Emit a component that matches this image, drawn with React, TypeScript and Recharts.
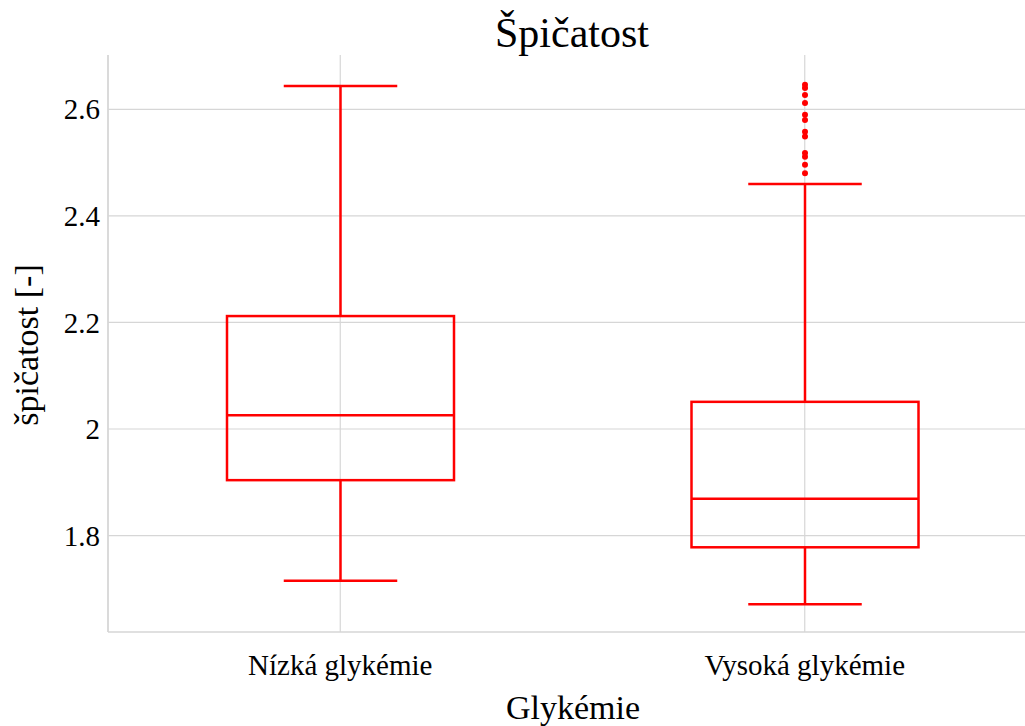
import { Bar, CartesianGrid, ComposedChart, XAxis, YAxis } from "recharts";

// Krabicový graf špičatosti podle glykémie.
const kategorie = ["Nízká glykémie", "Vysoká glykémie"];
const fousDolni = [1.715, 1.671];
const kvartil1 = [1.904, 1.778];
const median = [2.026, 1.869];
const kvartil3 = [2.212, 2.051];
const fousHorni = [2.644, 2.46];
const odlehle: number[][] = [
  [],
  [2.646, 2.64, 2.627, 2.612, 2.59, 2.58, 2.558, 2.549, 2.518, 2.511, 2.496, 2.48],
];
const yTicks = [1.8, 2, 2.2, 2.4, 2.6];

const CERVENA = "#ff0000";
const SEDA = "#d6d6d6";
const FONT = "'Liberation Serif', 'Times New Roman', serif";
const pismo = (size: number) => ({ fontFamily: FONT, fontSize: size });

const data = kategorie.map((name, i) => ({
  name,
  rozsah: [fousDolni[i], fousHorni[i]],
  q1: kvartil1[i],
  med: median[i],
  q3: kvartil3[i],
  lo: fousDolni[i],
  hi: fousHorni[i],
  out: odlehle[i],
}));

type BoxProps = {
  x?: number;
  y?: number;
  width?: number;
  height?: number;
  payload?: (typeof data)[number];
};

function Krabice({ x = 0, y = 0, width = 0, height = 0, payload }: BoxProps) {
  if (!payload) return null;
  const top = Math.min(y, y + height);
  const h = Math.abs(height);
  const { lo, hi } = payload;
  // převod hodnoty na pixel přes škálu, kterou dal sloupec [lo, hi]
  const py = (v: number) => top + ((hi - v) / (hi - lo)) * h;
  const cx = x + width / 2;
  const cap = width / 4;
  const s = { stroke: CERVENA, strokeWidth: 2.5, fill: "none" };
  return (
    <g>
      <line x1={cx} x2={cx} y1={py(hi)} y2={py(payload.q3)} {...s} />
      <line x1={cx} x2={cx} y1={py(payload.q1)} y2={py(lo)} {...s} />
      <line x1={cx - cap} x2={cx + cap} y1={py(hi)} y2={py(hi)} {...s} />
      <line x1={cx - cap} x2={cx + cap} y1={py(lo)} y2={py(lo)} {...s} />
      <rect
        x={x}
        y={py(payload.q3)}
        width={width}
        height={py(payload.q1) - py(payload.q3)}
        {...s}
      />
      <line x1={x} x2={x + width} y1={py(payload.med)} y2={py(payload.med)} {...s} />
      {payload.out.map((v, k) => (
        <circle key={k} cx={cx} cy={py(v)} r={3} fill={CERVENA} />
      ))}
    </g>
  );
}

function YTick({ x, y, payload }: any) {
  return (
    <text x={x} y={y} dy="0.35em" textAnchor="end" fill="#000" style={pismo(29)}>
      {String(payload.value)}
    </text>
  );
}

function XTick({ x, y, payload }: any) {
  return (
    <text x={x} y={y} dy={35} textAnchor="middle" fill="#000" style={pismo(29)}>
      {payload.value}
    </text>
  );
}

export default function App() {
  return (
    <div
      style={{
        position: "fixed",
        left: 0,
        top: 0,
        width: 1025,
        height: 726,
        overflow: "hidden",
        background: "#fff",
      }}
    >
      <ComposedChart
        width={1040}
        height={726}
        data={data}
        margin={{ top: 55, right: 3, bottom: 0, left: 0 }}
      >
        <CartesianGrid stroke={SEDA} strokeWidth={1.2} horizontalValues={yTicks} />
        <XAxis
          dataKey="name"
          height={94}
          tickLine={false}
          axisLine={{ stroke: SEDA, strokeWidth: 1.5 }}
          tick={<XTick />}
          interval={0}
        />
        <YAxis
          width={108}
          domain={[1.619, 2.702]}
          ticks={yTicks}
          tickLine={false}
          axisLine={{ stroke: SEDA, strokeWidth: 1.5 }}
          tick={<YTick />}
        />
        <Bar dataKey="rozsah" barSize={227} shape={<Krabice />} isAnimationActive={false} />
        <text x={572} y={47} textAnchor="middle" fill="#000" style={pismo(42)}>
          Špičatost
        </text>
        <text x={573} y={719} textAnchor="middle" fill="#000" style={pismo(34)}>
          Glykémie
        </text>
        <text
          x={38}
          y={345}
          transform="rotate(-90 38 345)"
          textAnchor="middle"
          fill="#000"
          style={pismo(34)}
        >
          špičatost [-]
        </text>
      </ComposedChart>
    </div>
  );
}
